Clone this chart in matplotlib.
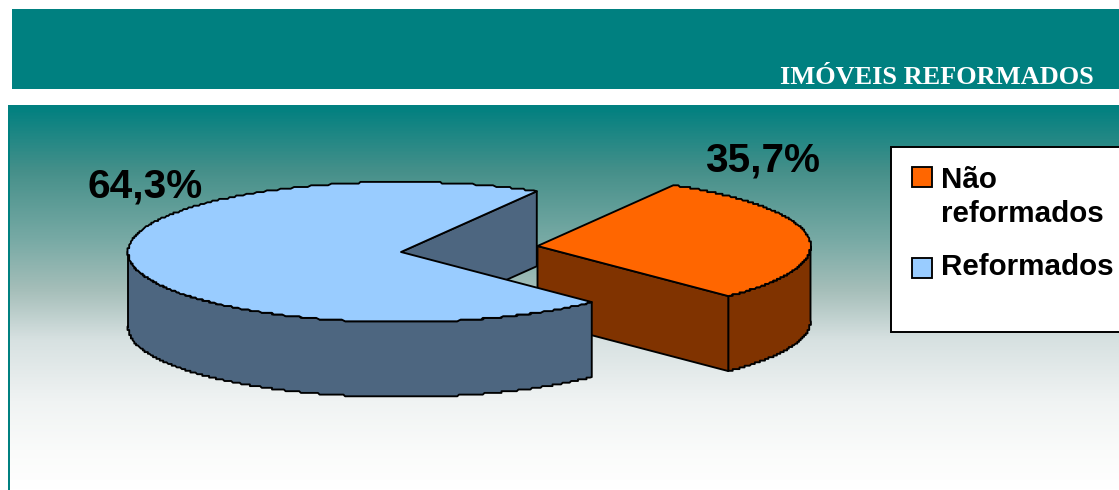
import numpy as np
import matplotlib
matplotlib.use("Agg")
import matplotlib.pyplot as plt
from matplotlib.colors import LinearSegmentedColormap
from matplotlib.patches import Polygon, Rectangle

# Survey results
categories = ["Não\nreformados", "Reformados"]
values = [35.7, 64.3]
title = "IMÓVEIS REFORMADOS"

# Colours
TEAL = "#008080"
TOP_COLORS = ["#FF6600", "#99CCFF"]
SIDE_COLORS = ["#803300", "#4D6680"]

W, H = 1119, 490
fig = plt.figure(figsize=(W / 100, H / 100), dpi=100, facecolor="white")
ax = fig.add_axes([0, 0, 1, 1])

# Header band and title
ax.add_patch(Rectangle((12, 9), W - 12, 80, fc=TEAL, ec="none"))
ax.text(1094, 84.5, title, family="Liberation Serif", weight="bold", fontsize=19,
        color="white", ha="right", va="baseline")

# Panel background: vertical fade from teal to white
stops = [(0.0, "#008080"), (0.17, "#46908A"), (0.35, "#78AAA5"), (0.48, "#A5BEB9"),
         (0.61, "#D7E1E1"), (0.77, "#F0F3F3"), (0.9, "#FAFBFA"), (1.0, "#FFFFFF")]
fade = LinearSegmentedColormap.from_list("fade", stops)
ax.imshow(np.linspace(0, 1, 386)[:, None], cmap=fade, aspect="auto",
          extent=(8, W, 490, 105), zorder=0)
ax.add_patch(Rectangle((8, 105), 2, 385, fc=TEAL, ec="none", zorder=1))

# Pie geometry
RX, RY, DEPTH = 273, 70, 75
BLUE_CENTER = np.array([401.0, 252.0])
ORANGE_CENTER = np.array([537.5, 246.0])
RIM_MID = np.radians(7.25)     # rim direction of the exploded slice
FORESHORTEN = 0.638            # tilt compresses angles towards the viewing axis
half = np.arctan(FORESHORTEN * np.tan(np.pi * values[0] / 100))
t_upper, t_lower = RIM_MID + half, RIM_MID - half


def rim(center, t0, t1, step=1.7):
    """Elliptical rim, snapped to a fine grid so that it steps like a low-res outline."""
    t = np.linspace(t0, t1, 400)
    x = center[0] + RX * np.cos(t)
    y = center[1] - RY * np.sin(t)
    pts = np.column_stack([x, y])
    inner = np.round(pts[1:-1] / step) * step
    keep = np.r_[True, np.any(np.diff(inner, axis=0) != 0, axis=1)]
    return np.vstack([pts[:1], inner[keep], pts[-1:]])


def face(points, color, z):
    ax.add_patch(Polygon(points, closed=True, fc=color, ec="black", lw=1.35,
                         joinstyle="round", zorder=z))


drop = np.array([0, DEPTH])

# Slice pulled out to the right
top = rim(ORANGE_CENTER, t_lower, t_upper)
wall = rim(ORANGE_CENTER, t_lower, 0)
face(np.vstack([wall, wall[::-1] + drop]), SIDE_COLORS[0], 3)
face([ORANGE_CENTER, top[0], top[0] + drop, ORANGE_CENTER + drop], SIDE_COLORS[0], 3)
face(np.vstack([ORANGE_CENTER[None], top]), TOP_COLORS[0], 4)

# Larger slice, in front of the other one
top = rim(BLUE_CENTER, t_upper, t_lower + 2 * np.pi)
face([BLUE_CENTER, top[0], top[0] + drop, BLUE_CENTER + drop], SIDE_COLORS[1], 5)
wall = rim(BLUE_CENTER, np.pi, t_lower + 2 * np.pi)
face(np.vstack([wall, wall[::-1] + drop]), SIDE_COLORS[1], 5)
face(np.vstack([BLUE_CENTER[None], top]), TOP_COLORS[1], 6)

# Percentage labels
label_pos = [(763, 160), (145, 186)]
for v, (x, y) in zip(values, label_pos):
    ax.text(x, y, f"{v:.1f}".replace(".", ",") + "%", family="Liberation Sans",
            weight="bold", fontsize=29.2, ha="center", va="center", zorder=8)

# Legend box, running off the right edge
ax.add_patch(Rectangle((891, 147), W + 20 - 891, 185, fc="white", ec="black", lw=1.4, zorder=7))
legend_rows = [(167, 222), (258, 275)]
for name, color, (box_y, base) in zip(categories, TOP_COLORS, legend_rows):
    ax.add_patch(Rectangle((911.5, box_y), 20, 19.5, fc=color, ec="black", lw=1.35, zorder=8))
    ax.text(941, base, name, family="Liberation Sans", weight="bold", fontsize=21.3,
            ha="left", va="baseline", linespacing=1.27, zorder=8)

ax.set_xlim(0, W)
ax.set_ylim(H, 0)
ax.axis("off")
fig.savefig("out.png", dpi=100, facecolor="white")
